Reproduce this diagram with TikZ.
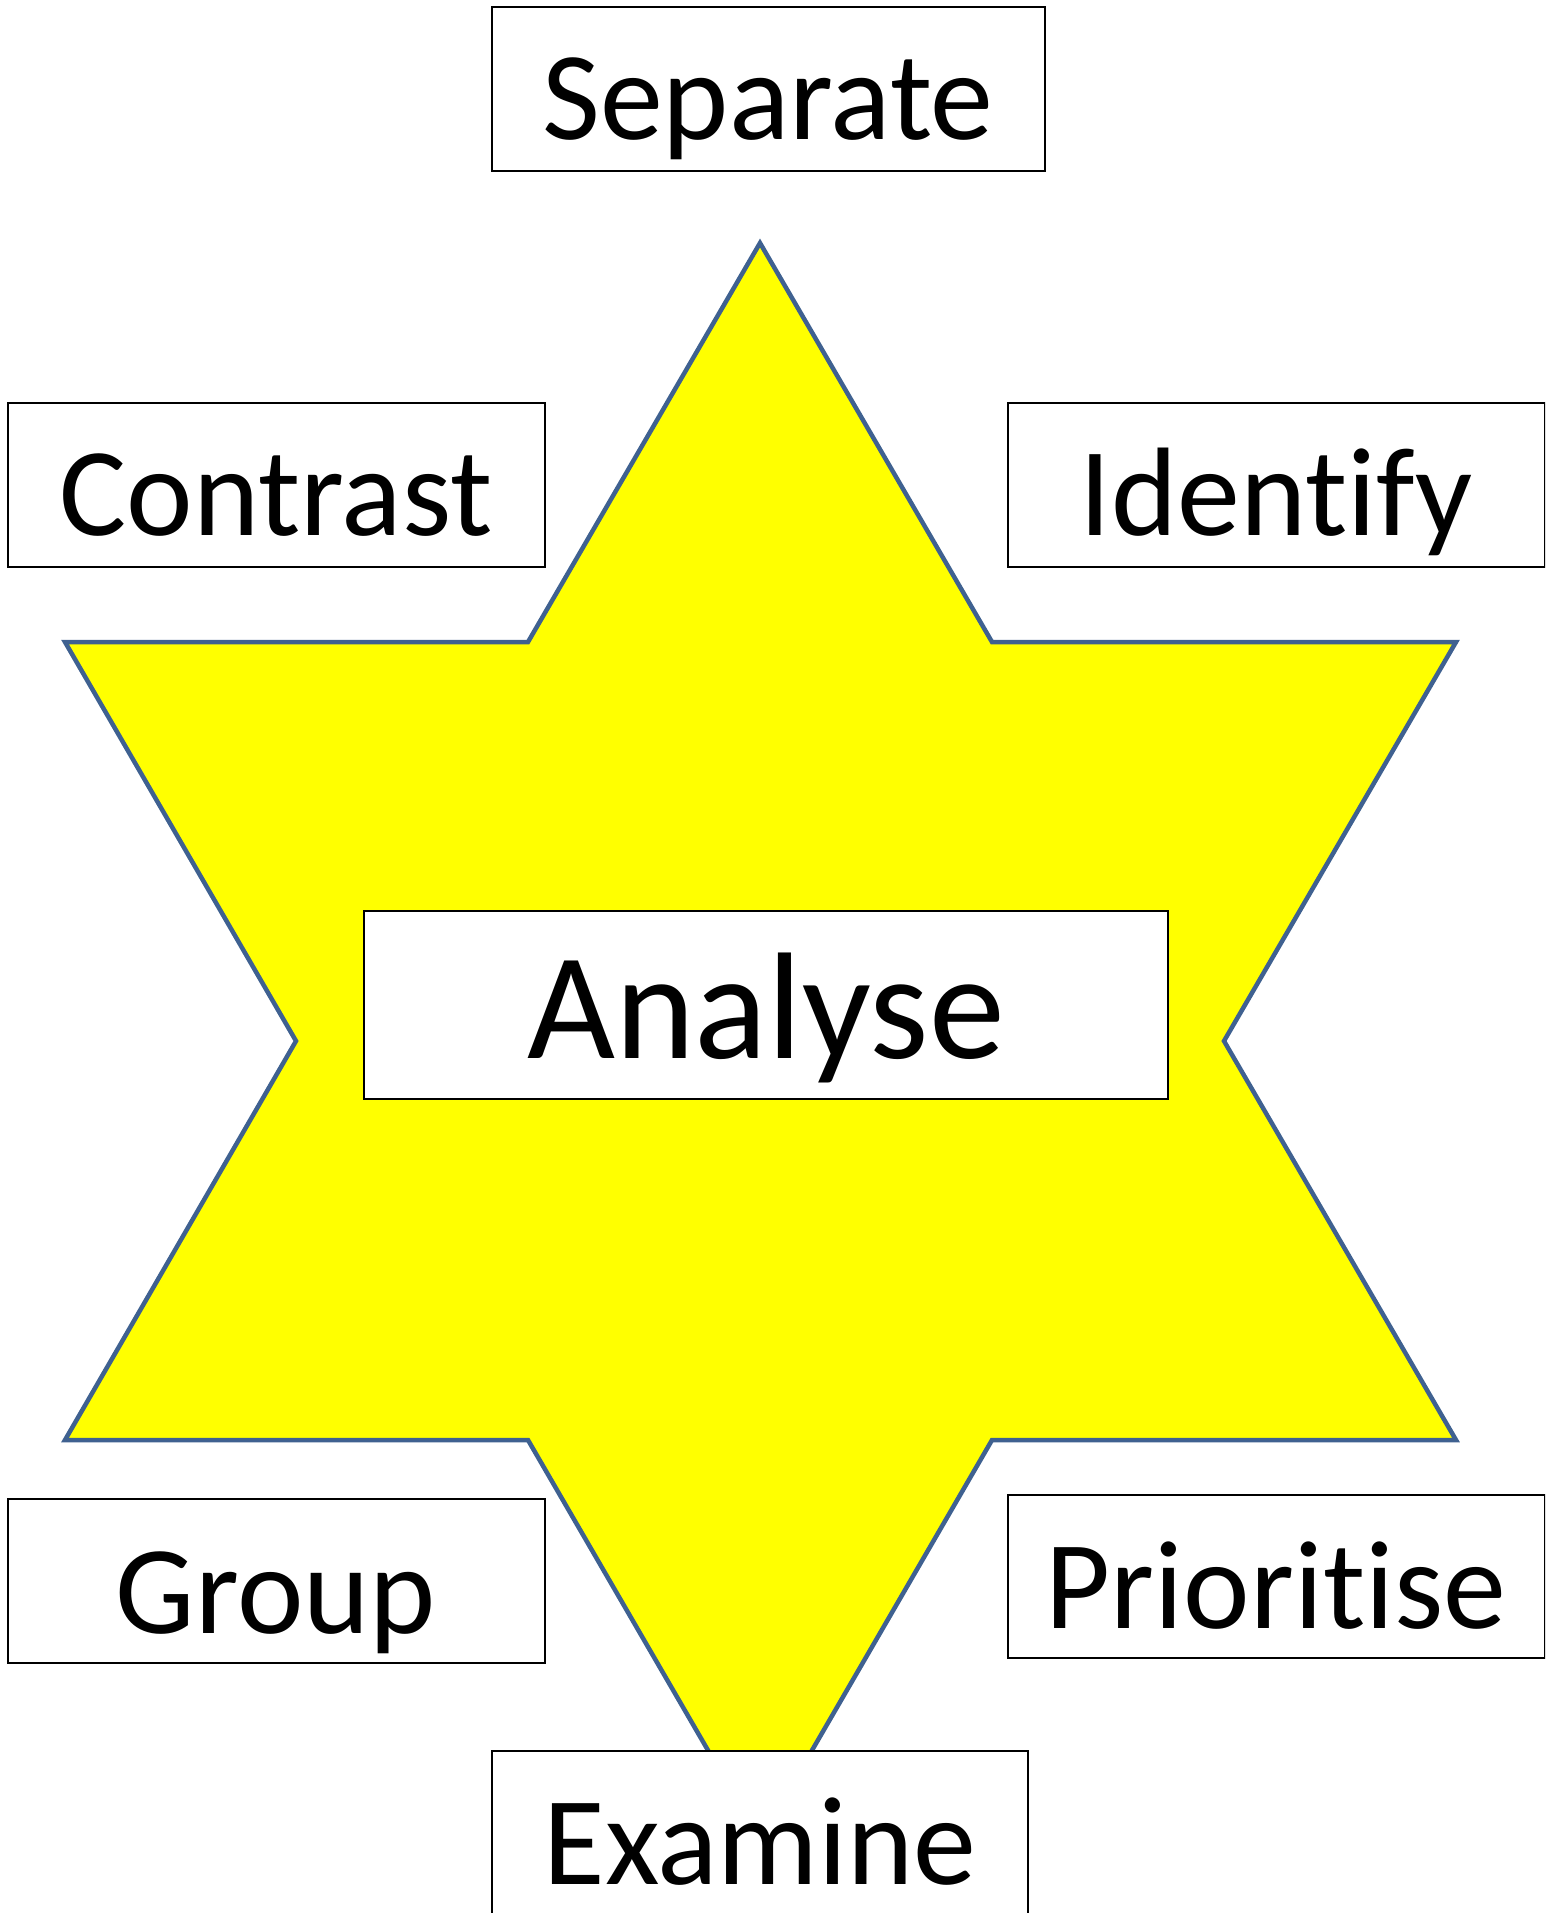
\documentclass[tikz,border=0pt]{standalone}
\usepackage{fontspec}
\setmainfont{Carlito}[Ligatures={NoCommon,TeX}]
\definecolor{starline}{HTML}{3F6190}
\definecolor{staryellow}{HTML}{FFFF00}
\tikzset{
  wordbox/.style={draw=black, line width=2pt, fill=white, inner sep=0pt, anchor=base,
    minimum width=#1, font=\fontsize{126}{150}\selectfont},
  startshape/.style={draw=starline, fill=staryellow, line width=4.5pt, line join=miter}
}
\begin{document}
\begin{tikzpicture}[x=1pt,y=-1pt]
\useasboundingbox (0,0) rectangle (1545,1913);
\clip (0,0) rectangle (1545,1913);
% star vertices
\coordinate (s1) at (760,243);
\coordinate (s2) at (992,642);
\coordinate (s3) at (1456,642);
\coordinate (s4) at (1224,1041);
\coordinate (s5) at (1456,1440);
\coordinate (s6) at (992,1440);
\coordinate (s7) at (760,1840);
\coordinate (s8) at (528,1440);
\coordinate (s9) at (65,1440);
\coordinate (s10) at (296,1041);
\coordinate (s11) at (65,642);
\coordinate (s12) at (528,642);
\draw[startshape] (s1) -- (s2) -- (s3) -- (s4) -- (s5) -- (s6) -- (s7) -- (s8) -- (s9) -- (s10) -- (s11) -- (s12) -- cycle;
% boxes
\node[wordbox=553pt, text height=133pt, text depth=31pt] (separate) at (768,140) {Separate};
\node[wordbox=537pt, text height=132pt, text depth=32pt] (contrast) at (276,535) {Contrast};
\node[wordbox=537pt, text height=132pt, text depth=32pt] (identify) at (1276,535) {Identify};
\node[wordbox=537pt, text height=134pt, text depth=30pt] (group) at (276,1633) {Group};
\node[wordbox=537pt, text height=133pt, text depth=30pt] (prioritise) at (1276,1628) {Prioritise};
\node[wordbox=536pt, text height=133pt, text depth=60pt] (examine) at (760,1884) {Examine};
\node[wordbox=804pt, text height=147pt, text depth=41pt, font=\fontsize{152}{180}\selectfont] (analyse) at (766,1058) {Analyse};
\end{tikzpicture}
\end{document}
